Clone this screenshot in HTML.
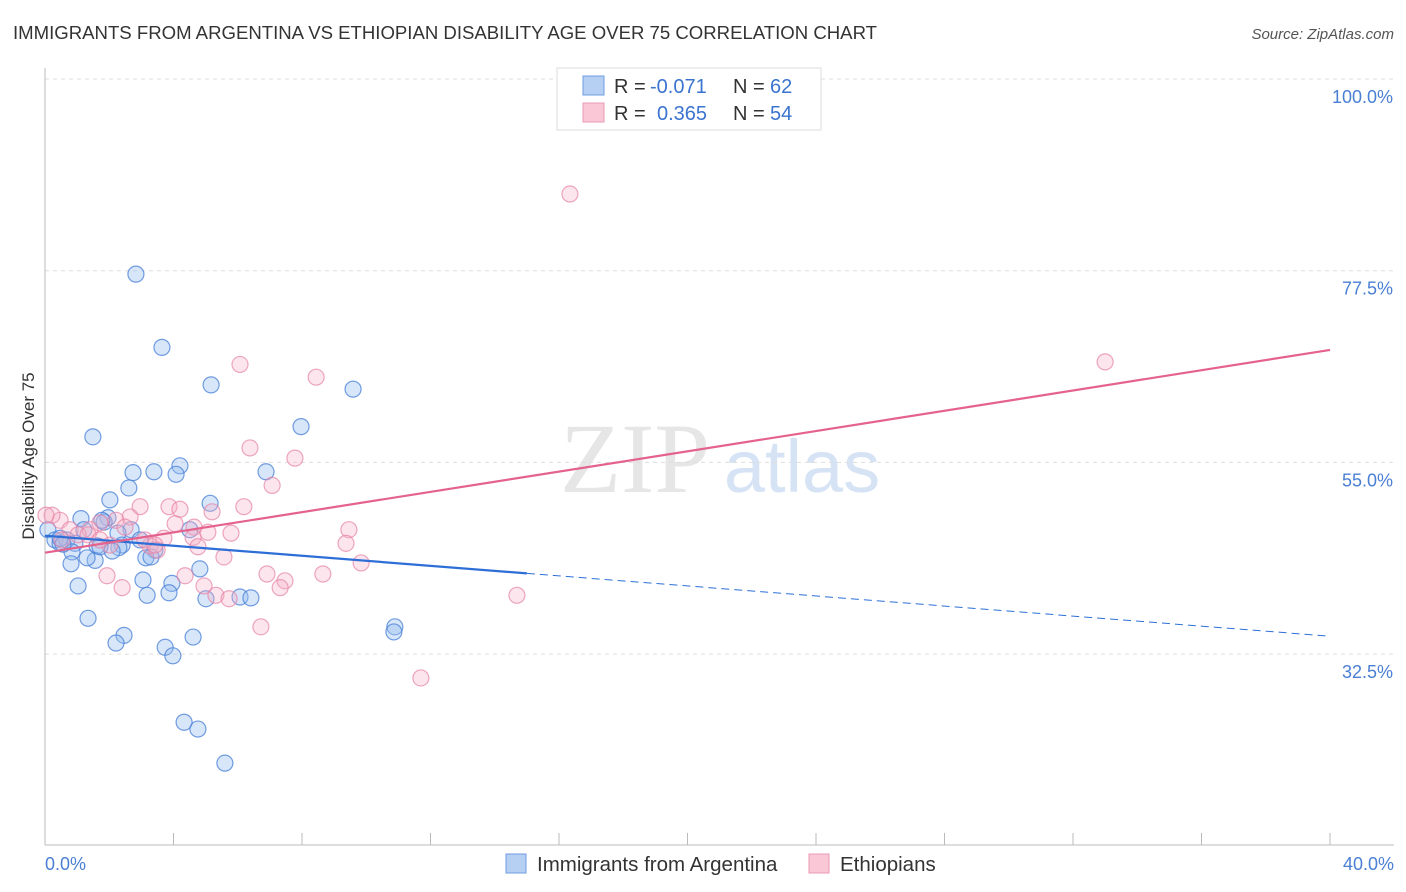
<!DOCTYPE html>
<html><head><meta charset="utf-8"><style>
body{margin:0;background:#fff;font-family:"Liberation Sans",sans-serif;}
svg{display:block}
</style></head><body>
<svg id="chart" width="1406" height="892">
<text x="13" y="39" font-size="18.6" fill="#333" textLength="864">IMMIGRANTS FROM ARGENTINA VS ETHIOPIAN DISABILITY AGE OVER 75 CORRELATION CHART</text>
<text x="1394" y="39" font-size="15" fill="#555" font-style="italic" text-anchor="end">Source: ZipAtlas.com</text>
<text x="635" y="492" font-size="100" fill="#e6e6e6" font-family="Liberation Serif" text-anchor="middle">ZIP</text>
<text x="802" y="492" font-size="74" fill="#d6e3f5" text-anchor="middle">atlas</text>
<g id="grid"></g><g id="pts"></g><g id="lines"></g>
<text transform="translate(34,456) rotate(-90)" font-size="17" fill="#333" text-anchor="middle">Disability Age Over 75</text>
<text x="45" y="870" font-size="18" fill="#4a7fd4">0.0%</text>
<text x="1394" y="870" font-size="18" fill="#4a7fd4" text-anchor="end">40.0%</text>
<g>
<rect x="557" y="68" width="264" height="62" fill="#fff" stroke="#ddd"/>
<rect x="583" y="76" width="21" height="19" fill="#b5d0f3" stroke="#6f9de0"/>
<rect x="583" y="103" width="21" height="19" fill="#f9c7d6" stroke="#eb9ab5"/>
<text x="614" y="93" font-size="20" fill="#333">R =</text>
<text x="650" y="93" font-size="20" fill="#3a74d0">-0.071</text>
<text x="733" y="93" font-size="20" fill="#333">N =</text>
<text x="770" y="93" font-size="20" fill="#3a74d0">62</text>
<text x="614" y="120" font-size="20" fill="#333">R =</text>
<text x="657" y="120" font-size="20" fill="#3a74d0">0.365</text>
<text x="733" y="120" font-size="20" fill="#333">N =</text>
<text x="770" y="120" font-size="20" fill="#3a74d0">54</text>
</g>
<g>
<rect x="506" y="854" width="20" height="19" fill="#b5d0f3" stroke="#6f9de0"/>
<text x="537" y="871" font-size="20.5" fill="#333">Immigrants from Argentina</text>
<rect x="809" y="854" width="20" height="19" fill="#f9c7d6" stroke="#eb9ab5"/>
<text x="840" y="871" font-size="20.5" fill="#333">Ethiopians</text>
</g>
</svg>
<script>
const yTicks=[100,77.5,55,32.5];
const yTickLabels=["100.0%","77.5%","55.0%","32.5%"];
const blueX=[2.83,3.64,5.17,9.59,1.49,7.97,6.88,4.20,3.39,2.74,4.08,2.61,2.02,5.14,1.96,1.12,1.84,2.68,4.51,2.27,1.21,0.09,0.31,0.47,0.68,0.93,2.96,2.40,1.62,2.30,3.42,0.84,3.14,3.30,2.09,0.81,1.56,4.82,3.05,1.03,3.95,3.86,3.18,5.01,6.07,6.41,1.34,2.46,2.21,4.61,3.74,3.98,10.89,10.86,4.33,4.76,5.60,1.77,0.47,0.56,1.71,1.31];
const blueY=[77.1,68.5,64.1,63.6,58.0,59.2,53.9,54.6,53.9,53.8,53.6,52.0,50.6,50.2,48.5,48.4,48.0,47.1,47.1,46.7,47.1,47.1,45.9,45.5,45.9,45.5,45.9,45.3,45.2,45.0,44.7,44.5,43.8,43.9,44.6,43.1,43.5,42.5,41.2,40.5,40.8,39.7,39.4,39.0,39.2,39.1,36.7,34.7,33.8,34.5,33.3,32.3,35.7,35.1,24.5,23.7,19.7,48.2,46.1,45.4,45.1,43.8];
const pinkX=[16.34,33.0,6.07,8.44,6.38,7.78,7.07,6.19,2.96,3.86,4.20,5.20,2.65,9.46,4.64,4.05,5.79,2.21,1.71,1.40,2.49,0.47,0.22,0.03,3.70,4.61,5.07,9.37,4.76,9.84,5.57,6.91,8.65,7.47,4.36,7.32,4.95,1.93,2.40,5.32,5.73,6.72,14.69,11.70,3.27,3.49,0.78,1.03,0.53,3.11,1.34,2.02,3.42,1.71];
const pinkY=[86.5,66.8,66.5,65.0,56.7,55.5,52.3,49.8,49.8,49.8,49.5,49.2,48.6,47.1,47.4,47.8,46.7,48.2,47.9,47.1,47.4,48.2,48.8,48.8,46.1,46.2,46.8,45.5,45.1,43.2,43.9,41.9,41.9,41.1,41.7,40.3,40.5,41.7,40.3,39.4,39.0,35.7,39.4,29.7,45.2,44.7,47.1,46.5,45.9,45.9,46.5,45.3,45.3,45.9];
const blueTrend=[46.4,34.6], pinkTrend=[44.4,68.2], blueSolidEnd=15.0;
const NS="http://www.w3.org/2000/svg";
const X=v=>45+v/40*1285, Y=v=>79+(100-v)/22.5*191.7;
function mk(t,a,p){const e=document.createElementNS(NS,t);for(const k in a)e.setAttribute(k,a[k]);p.appendChild(e);return e;}
const g=document.getElementById('grid');
yTicks.forEach((t,i)=>{
 const l=mk('line',{x1:45,x2:1394,y1:Y(t),y2:Y(t),stroke:'#ddd','stroke-dasharray':'4,4'},g);
 
 
 const tx=mk('text',{x:1393,y:Y(t)+24,'font-size':18,fill:'#4a7fd4','text-anchor':'end'},g);
 tx.textContent=yTickLabels[i];
 
 
});
const ax=mk('line',{x1:45,x2:45,y1:68,y2:845,stroke:'#bbb'},g);


const bx=mk('line',{x1:45,x2:1394,y1:845,y2:845,stroke:'#bbb'},g);


for(let i=0;i<=10;i++){const t=mk('line',{x1:X(i*4),x2:X(i*4),y1:833,y2:845,stroke:'#bbb'},g);
 
 }
const p=document.getElementById('pts');
blueX.forEach((v,i)=>{const c=mk('circle',{cx:X(v),cy:Y(blueY[i]),r:8,fill:'rgba(150,190,238,0.38)',stroke:'rgba(70,125,215,0.75)','stroke-width':1.2},p);
 
 });
pinkX.forEach((v,i)=>{const c=mk('circle',{cx:X(v),cy:Y(pinkY[i]),r:8,fill:'rgba(246,175,198,0.33)',stroke:'rgba(230,130,165,0.7)','stroke-width':1.2},p);
 
 });
const L=document.getElementById('lines');
const bv=x=>blueTrend[0]+(blueTrend[1]-blueTrend[0])*x/40;
const l1=mk('line',{x1:X(0),y1:Y(bv(0)),x2:X(blueSolidEnd),y2:Y(bv(blueSolidEnd)),stroke:'#2d6fd6','stroke-width':2.2},L);


const l2=mk('line',{x1:X(blueSolidEnd),y1:Y(bv(blueSolidEnd)),x2:X(40),y2:Y(bv(40)),stroke:'#2d6fd6','stroke-width':1,'stroke-dasharray':'8,5'},L);


const l3=mk('line',{x1:X(0),y1:Y(pinkTrend[0]),x2:X(40),y2:Y(pinkTrend[1]),stroke:'#e4628c','stroke-width':2.2},L);


</script>
</body></html>
